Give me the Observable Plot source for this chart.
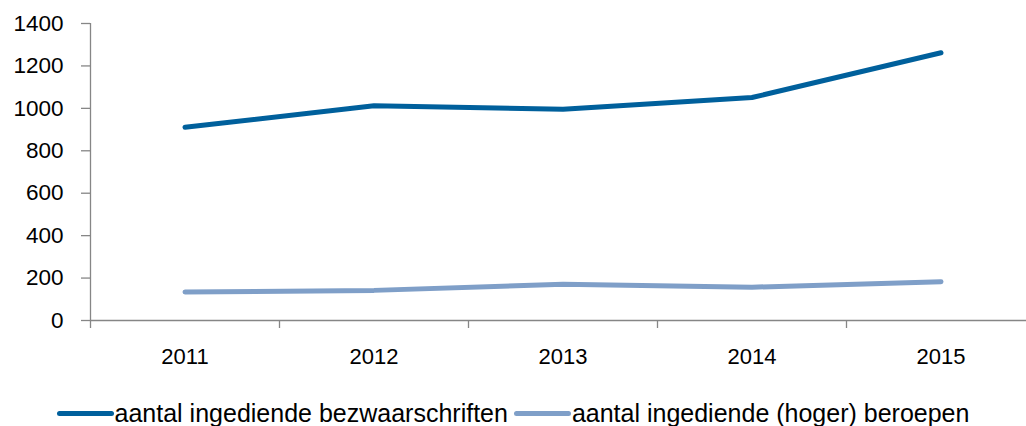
<!DOCTYPE html>
<html>
<head>
<meta charset="utf-8">
<script src="https://cdn.jsdelivr.net/npm/d3@7"></script>
<script src="https://cdn.jsdelivr.net/npm/@observablehq/plot@0.6"></script>
<style>
  html, body { margin: 0; padding: 0; background: #fff; }
  #chart { width: 1026px; height: 426px; overflow: hidden; font-family: "Liberation Sans", Arial, sans-serif; }
  .legend { display: flex; justify-content: center; align-items: center; height: 30px; margin-top: 8px; font-size: 25px; color: #000; white-space: nowrap; }
  .legend .item { display: flex; align-items: center; margin: 0 3px; }
  .legend .sw { display: inline-block; width: 57px; height: 5px; border-radius: 3px; margin-right: 1px; }
</style>
</head>
<body>
<div id="chart"></div>
<script>
const years = [2011, 2012, 2013, 2014, 2015];
const bezwaarschriften = [911, 1012, 996, 1051, 1262];
const beroepen = [134, 142, 171, 157, 183];
const yTicks = [0, 200, 400, 600, 800, 1000, 1200, 1400];
const seriesNames = ["aantal ingediende bezwaarschriften", "aantal ingediende (hoger) beroepen"];
const seriesColors = ["#00609c", "#7f9fc8"];

const data = years.flatMap((yr, i) => [
  {year: yr, value: bezwaarschriften[i], series: seriesNames[0]},
  {year: yr, value: beroepen[i], series: seriesNames[1]}
]);
const boundaries = years.map(y => y - 0.5).concat([years[years.length - 1] + 0.5]);
const axisGray = "#868686";

const chart = Plot.plot({
  width: 1026,
  height: 390,
  marginLeft: 90,
  marginRight: 0,
  marginTop: 23,
  marginBottom: 70,
  style: {fontFamily: "'Liberation Sans', Arial, sans-serif", fontSize: "22px", color: "#000", background: "#fff"},
  x: {domain: [boundaries[0], boundaries[boundaries.length - 1]], range: [90, 1035]},
  y: {domain: [0, 1400]},
  color: {domain: seriesNames, range: seriesColors},
  marks: [
    Plot.axisY({ticks: yTicks, tickSize: 9, tickPadding: 18, stroke: axisGray, strokeWidth: 1.3, fill: "#000", fontSize: 22.5, tickFormat: d => String(d), label: null}),
    Plot.axisX({ticks: boundaries, tickSize: 8, stroke: axisGray, strokeWidth: 1.3, tickFormat: () => "", label: null}),
    Plot.axisX({ticks: years, tickSize: 0, tickPadding: 28, fill: "#000", fontSize: 22, tickFormat: d => String(d), label: null}),
    Plot.ruleX([boundaries[0]], {y1: 0, y2: 1400, stroke: axisGray, strokeWidth: 1.3}),
    Plot.ruleY([0], {stroke: axisGray, strokeWidth: 1.3}),
    Plot.lineY(data, {x: "year", y: "value", z: "series", stroke: "series", strokeWidth: 5, strokeLinecap: "round", strokeLinejoin: "round"})
  ]
});

const root = document.getElementById("chart");
root.appendChild(chart);
const legend = document.createElement("div");
legend.className = "legend";
seriesNames.forEach((name, i) => {
  const item = document.createElement("span");
  item.className = "item";
  const sw = document.createElement("span");
  sw.className = "sw";
  sw.style.background = seriesColors[i];
  const t = document.createElement("span");
  t.textContent = name;
  item.appendChild(sw);
  item.appendChild(t);
  legend.appendChild(item);
});
root.appendChild(legend);
</script>
</body>
</html>
